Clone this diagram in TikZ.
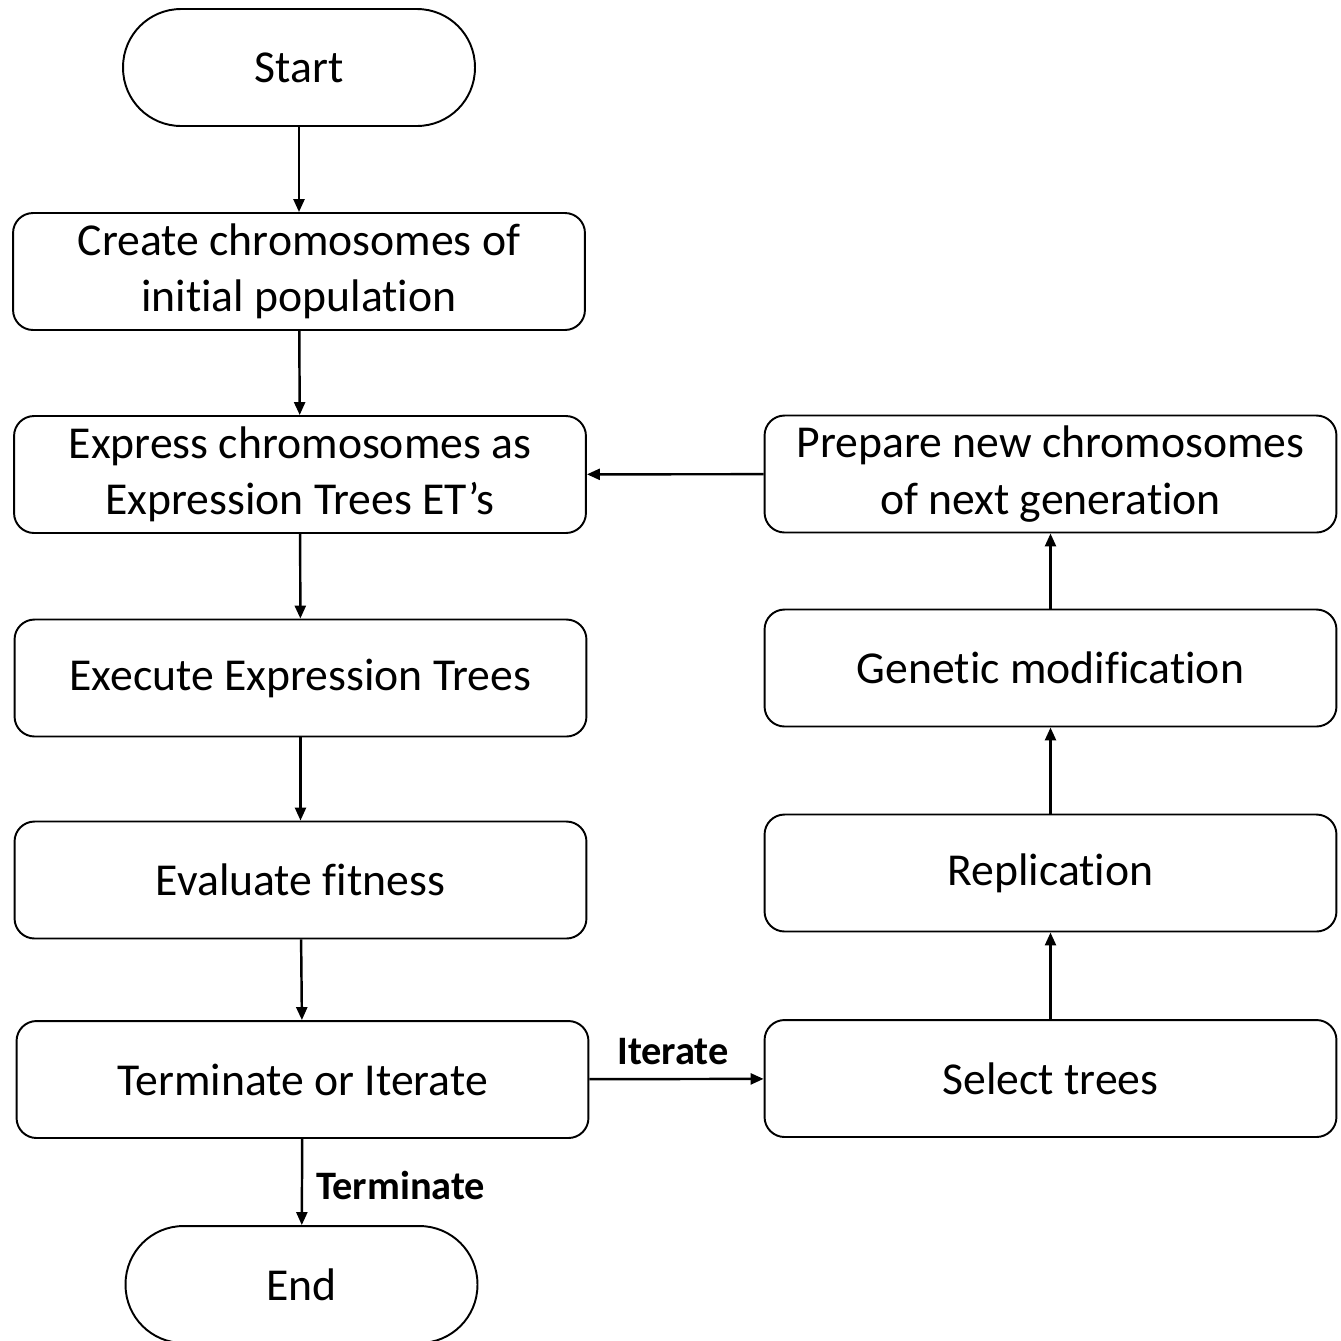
\documentclass[tikz,border=0pt]{standalone}
\usepackage{fontspec}
\setmainfont{Carlito}[Ligatures=NoCommon]
\usetikzlibrary{arrows.meta}
\begin{document}
\begin{tikzpicture}[x=0.02cm,y=-0.02cm,
  box/.style={draw, line width=1.1pt, rounded corners=0.4cm, minimum width=11.44cm, minimum height=2.34cm, align=center, font=\fontsize{26}{32}\selectfont, inner sep=0pt},
  term/.style={draw, line width=1.1pt, rounded corners=1.16cm, minimum width=7.04cm, minimum height=2.34cm, align=center, font=\fontsize{26}{32}\selectfont, inner sep=0pt},
  arr/.style={line width=1.4pt, -{Triangle[length=0.26cm,width=0.22cm]}},
  lbl/.style={font=\fontsize{23}{27}\selectfont\bfseries}]
\useasboundingbox (0,0) rectangle (1341,1340);
\node[term] (start) at (299,67.5) {Start};
\node[box] (create) at (299,271.5) {Create chromosomes of\\initial population};
\node[box] (express) at (300,474.5) {Express chromosomes as\\Expression Trees ET’s};
\node[box] (execute) at (300.5,678) {Execute Expression Trees};
\node[box] (evaluate) at (300.5,880) {Evaluate fitness};
\node[box] (termit) at (302.5,1079.5) {Terminate or Iterate};
\node[term] (end) at (301.5,1284.5) {End};
\node[box] (prepare) at (1050.5,474) {Prepare new chromosomes\\of next generation};
\node[box] (genetic) at (1050.5,668) {Genetic modification};
\node[box] (replic) at (1050.5,873) {Replication};
\node[box] (select) at (1050.5,1078.5) {Select trees};
\draw[arr] (start) -- (create);
\draw[arr] (create) -- (express);
\draw[arr] (express) -- (execute);
\draw[arr] (execute) -- (evaluate);
\draw[arr] (evaluate) -- (termit);
\draw[arr] (termit) -- node[lbl, right, xshift=4pt, yshift=-2pt] {Terminate} (end);
\draw[arr] (termit) -- node[lbl, above, yshift=4pt, xshift=-2pt] {Iterate} (select);
\draw[arr] (select) -- (replic);
\draw[arr] (replic) -- (genetic);
\draw[arr] (genetic) -- (prepare);
\draw[arr] (prepare) -- (express);
\end{tikzpicture}
\end{document}
